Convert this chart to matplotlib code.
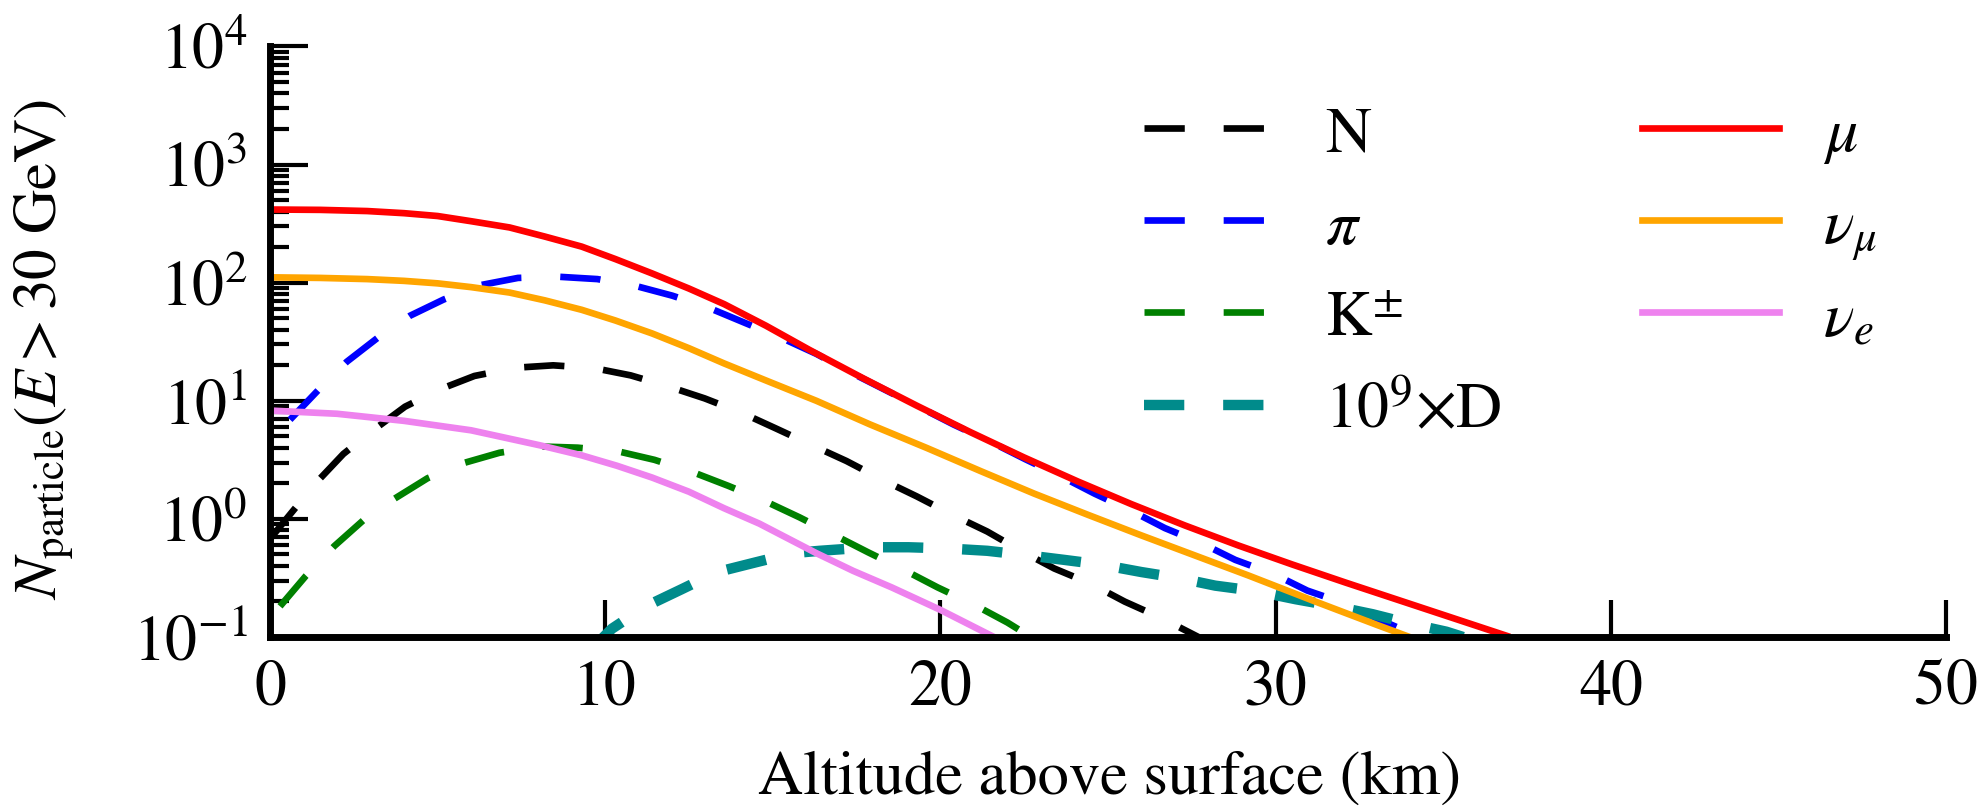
import numpy as np
import matplotlib
matplotlib.use("Agg")
import matplotlib.pyplot as plt
from matplotlib.lines import Line2D
from matplotlib.legend_handler import HandlerLine2D
from matplotlib.ticker import LogLocator, NullLocator, FixedLocator

plt.rcParams['font.family'] = 'serif'
plt.rcParams['font.serif'] = ['STIXGeneral', 'Liberation Serif', 'DejaVu Serif']
plt.rcParams['mathtext.fontset'] = 'stix'
plt.rcParams['lines.scale_dashes'] = False

# ---- data: altitude (km) and log10 of particle number ----
x_N = [0.0, 0.64, 1.39, 2.19, 3.1, 4.03, 5.1, 6.1, 7.34, 8.45, 9.66, 10.76, 11.9, 12.97,
       14.1, 15.1, 16.2, 17.2, 18.3, 19.3, 20.35, 21.4, 22.4, 23.4, 24.5, 25.5, 26.6, 27.7]
log_N = [-0.17, 0.052, 0.31, 0.55, 0.755, 0.95, 1.10, 1.21, 1.28, 1.30, 1.277, 1.215, 1.12,
         1.02, 0.895, 0.765, 0.62, 0.49, 0.327, 0.19, 0.036, -0.107, -0.27, -0.42, -0.55,
         -0.70, -0.84, -1.0]

x_pi = [0.6, 1.44, 2.29, 3.2, 4.18, 5.18, 6.3, 7.4, 8.6, 9.77, 10.94, 12.0, 13.1, 14.2, 15.3,
        16.3, 17.36, 18.37, 19.4, 20.4, 21.52, 22.53, 23.6, 24.6, 25.7, 26.7, 27.8, 28.8,
        29.95, 30.95, 32.07, 33.0, 34.3]
log_pi = [0.84, 1.09, 1.33, 1.53, 1.72, 1.857, 1.98, 2.04, 2.05, 2.03, 1.97, 1.89, 1.786,
          1.656, 1.527, 1.397, 1.235, 1.09, 0.943, 0.798, 0.65, 0.506, 0.36, 0.214, 0.068,
          -0.078, -0.207, -0.347, -0.467, -0.607, -0.716, -0.84, -1.0]

x_K = [0.3, 1.07, 1.92, 2.78, 3.71, 4.7, 5.78, 6.85, 8.08, 9.18, 10.4, 11.47, 12.65, 13.68,
       14.78, 15.8, 16.88, 17.84, 18.93, 19.92, 21.0, 22.0, 22.7]
log_K = [-0.74, -0.483, -0.23, -0.013, 0.17, 0.344, 0.473, 0.56, 0.613, 0.603, 0.571, 0.50,
         0.392, 0.279, 0.149, 0.013, -0.143, -0.282, -0.434, -0.58, -0.725, -0.877, -1.0]

x_D = [9.6, 10.2, 11.2, 12.27, 13.34, 14.46, 15.6, 16.4, 17.9, 19.05, 20.2, 21.4, 22.5, 23.7,
       24.8, 26.0, 27.1, 28.2, 29.4, 30.6, 31.7, 32.9, 34.0, 35.1, 35.6]
log_D = [-1.1, -0.93, -0.742, -0.597, -0.45, -0.37, -0.29, -0.27, -0.24, -0.24, -0.25, -0.27,
         -0.305, -0.347, -0.387, -0.45, -0.50, -0.565, -0.61, -0.68, -0.736, -0.807, -0.886,
         -0.955, -1.0]

x_mu = [0.0, 1.5, 2.9, 4.0, 5.0, 6.0, 7.15, 8.2, 9.3, 10.3, 11.4, 12.5, 13.55, 14.8, 16.1,
        17.7, 19.3, 20.9, 22.5, 24.1, 25.7, 27.3, 28.9, 30.5, 32.1, 33.7, 35.3, 36.9]
log_mu = [2.619, 2.616, 2.606, 2.588, 2.564, 2.52, 2.467, 2.39, 2.305, 2.20, 2.078, 1.95,
          1.818, 1.635, 1.43, 1.19, 0.958, 0.734, 0.52, 0.317, 0.125, -0.056, -0.226,
          -0.386, -0.54, -0.69, -0.84, -0.99]

x_numu = [0.0, 1.5, 2.9, 4.0, 5.0, 6.0, 7.15, 8.2, 9.3, 10.3, 11.4, 12.5, 13.55, 14.9, 16.3,
          17.9, 19.6, 21.2, 22.8, 24.4, 26.0, 27.6, 29.2, 31.1, 33.05, 34.0]
log_numu = [2.045, 2.04, 2.03, 2.015, 1.994, 1.962, 1.916, 1.85, 1.77, 1.68, 1.57, 1.445,
            1.316, 1.16, 1.0, 0.80, 0.60, 0.405, 0.214, 0.035, -0.14, -0.31, -0.48, -0.69,
            -0.90, -1.0]

x_nue = [0.0, 2.0, 4.0, 6.0, 8.1, 9.3, 10.35, 11.4, 12.5, 13.55, 14.6, 16.3, 17.4, 18.55,
         20.0, 21.6]
log_nue = [0.917, 0.89, 0.83, 0.75, 0.62, 0.538, 0.45, 0.35, 0.23, 0.09, -0.04, -0.29, -0.44,
           -0.58, -0.77, -1.0]

labels = ['N', r'$\pi$', r'$\mathrm{K}^{\pm}$', r'$10^9{\times}\mathrm{D}$',
          r'$\mu$', r'$\nu_\mu$', r'$\nu_e$']
x_ticks = [0, 10, 20, 30, 40, 50]


class HandlerLineLow(HandlerLine2D):
    """Line handle placed at a fixed height above the text baseline."""
    def create_artists(self, legend, orig_handle, xdescent, ydescent, width, height,
                       fontsize, trans):
        arts = super().create_artists(legend, orig_handle, xdescent, ydescent, width,
                                      height, fontsize, trans)
        for a in arts:
            if isinstance(a, Line2D):
                a.set_ydata(np.full_like(np.asarray(a.get_xdata(), float), 0.37 * fontsize))
        return arts


# ---- figure ----
fig = plt.figure(figsize=(19.85, 8.08), dpi=100)
ax = fig.add_axes([0.136, 0.2116, 0.8443, 0.731])

dash = (0, (29, 28))
lw = 4.8
series = [
    (x_N, log_N, 'black', lw, dash),
    (x_pi, log_pi, 'blue', lw, dash),
    (x_K, log_K, 'green', lw, dash),
    (x_D, log_D, 'darkcyan', 7.5, dash),
    (x_mu, log_mu, 'red', lw, '-'),
    (x_numu, log_numu, 'orange', lw, '-'),
    (x_nue, log_nue, 'violet', lw, '-'),
]
for (xs, ls_, c, w, st), lab in zip(series, labels):
    ax.plot(xs, np.power(10.0, ls_), color=c, lw=w, ls=st, label=lab)

ax.set_yscale('log')
ax.set_xlim(0, 50)
ax.set_ylim(0.1, 1e4)
ax.xaxis.set_major_locator(FixedLocator(x_ticks))
ax.xaxis.set_minor_locator(NullLocator())
ax.yaxis.set_major_locator(LogLocator(base=10, numticks=20))
ax.yaxis.set_minor_locator(LogLocator(base=10, subs=np.arange(2, 10), numticks=20))

for s in ['top', 'right']:
    ax.spines[s].set_visible(False)
for s in ['left', 'bottom']:
    ax.spines[s].set_linewidth(5)

ax.tick_params(axis='both', which='major', direction='in', length=27, width=3,
               labelsize=46, pad=16)
ax.tick_params(axis='y', which='minor', direction='in', length=14, width=3)

ax.legend(ncol=2, frameon=False, fontsize=46, handlelength=2.14, handleheight=1.8,
          handletextpad=0.69, columnspacing=2.2, labelspacing=0.03, loc='upper left',
          bbox_to_anchor=(1144 / 1985, 1 - 85.5 / 808), bbox_transform=fig.transFigure,
          borderaxespad=0, borderpad=0, handler_map={Line2D: HandlerLineLow()})

fig.text(45 / 1985, 1 - 350 / 808, r'$N_{\mathrm{particle}}(E > 30\ \mathrm{GeV})$',
         rotation=90, ha='center', va='center', fontsize=44)
fig.text(1110 / 1985, 1 - 794 / 808, 'Altitude above surface (km)',
         ha='center', va='baseline', fontsize=45)

fig.savefig('out.png', dpi=100)
